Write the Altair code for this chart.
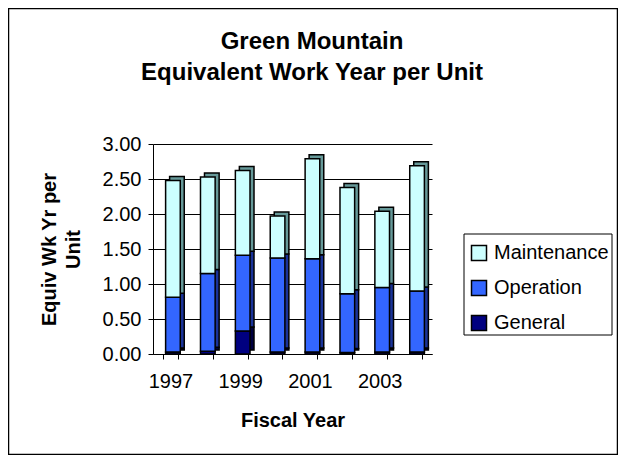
import altair as alt
import pandas as pd

years = ["1997", "1998", "1999", "2000", "2001", "2002", "2003", "2004"]
general = [0.03, 0.04, 0.33, 0.03, 0.03, 0.02, 0.03, 0.03]
operation = [0.78, 1.11, 1.08, 1.34, 1.33, 0.84, 0.92, 0.87]
maintenance = [1.67, 1.38, 1.21, 0.60, 1.43, 1.52, 1.09, 1.79]

series = ["Maintenance", "Operation", "General"]
front_colors = ["#CCFFFF", "#3366FF", "#000080"]
side_colors = {"Maintenance": "#669999", "Operation": "#1a3399", "General": "#000040"}
stack_rank = {"General": 0, "Operation": 1, "Maintenance": 2}
title_lines = ["Green Mountain", "Equivalent Work Year per Unit"]

rows = []
for i, y in enumerate(years):
    for name, vals in (("General", general), ("Operation", operation), ("Maintenance", maintenance)):
        rows.append({"Year": y, "Series": name, "Value": vals[i],
                     "rank": stack_rank[name], "dark": side_colors[name]})
df = pd.DataFrame(rows)

FONT = "Liberation Sans"

x_enc = alt.X("Year:N", sort=years,
              scale=alt.Scale(type="band", paddingInner=0.58, paddingOuter=0.29),
              axis=alt.Axis(title="Fiscal Year", labelAngle=0,
                            labelExpr="(toNumber(datum.value) - 1997) % 2 == 0 ? datum.value : ''",
                            tickBand="extent", labelFontSize=20, titleFontSize=20,
                            titleFontWeight="bold", labelColor="black", titleColor="black",
                            domainColor="black", tickColor="black", tickSize=5,
                            labelPadding=12, titlePadding=19, grid=False))
y_enc = alt.Y("Value:Q", stack="zero",
              scale=alt.Scale(domain=[0, 3], nice=False),
              axis=alt.Axis(title=["Equiv Wk Yr per", "Unit"], values=[0, 0.5, 1, 1.5, 2, 2.5, 3],
                            format=".2f", labelFontSize=20, titleFontSize=20,
                            titleFontWeight="bold", labelColor="black", titleColor="black",
                            titleLineHeight=24,
                            domainColor="black", tickColor="black", tickSize=5,
                            labelPadding=7, gridColor="black", gridWidth=1, titlePadding=19))

depth = alt.Chart(df).mark_bar(xOffset=6.5, yOffset=-4, stroke="black", strokeWidth=1.5).encode(
    x=x_enc, y=y_enc,
    fill=alt.Fill("dark:N", scale=None, legend=None),
    order=alt.Order("rank:Q"),
)

front = alt.Chart(df).mark_bar(xOffset=2.5, stroke="black", strokeWidth=1.5).encode(
    x=x_enc, y=y_enc,
    color=alt.Color("Series:N",
                    scale=alt.Scale(domain=series, range=front_colors),
                    legend=alt.Legend(title=None, orient="none", legendX=316, legendY=99,
                                      labelFontSize=20, labelColor="black", labelOffset=5,
                                      symbolType="square", symbolSize=225,
                                      symbolStrokeColor="black", symbolStrokeWidth=1.5,
                                      symbolOpacity=1, rowPadding=13, padding=0,
                                      labelFont=FONT)),
    order=alt.Order("rank:Q"),
)

one = pd.DataFrame({"k": [0]})
frame = alt.Chart(one).mark_rect(
    fill="white", fillOpacity=0, stroke="black", strokeWidth=1.5
).encode(
    x=alt.value(-144.5), x2=alt.value(464.5), y=alt.value(-135.5), y2=alt.value(310.5)
)
legend_box = alt.Chart(one).mark_rect(
    fill="white", stroke="black", strokeWidth=1
).encode(
    x=alt.value(311), x2=alt.value(459), y=alt.value(90), y2=alt.value(191)
)

title1 = alt.Chart(pd.DataFrame({"t": [title_lines[0]]})).mark_text(
    fontSize=24, fontWeight="bold", font=FONT, color="black", baseline="middle", align="center"
).encode(text="t:N", x=alt.value(159), y=alt.value(-102))
title2 = alt.Chart(pd.DataFrame({"t": [title_lines[1]]})).mark_text(
    fontSize=24, fontWeight="bold", font=FONT, color="black", baseline="middle", align="center"
).encode(text="t:N", x=alt.value(159), y=alt.value(-71))

chart = alt.layer(frame, legend_box, title1, title2, depth, front).properties(
    width=279, height=210,
    autosize=alt.AutoSizeParams(type="none"),
    padding={"left": 145, "top": 136, "right": 186, "bottom": 101},
).configure(font=FONT).configure_view(stroke=None).configure_axis(
    labelFont=FONT, titleFont=FONT
)

chart.save("out.html", embed_options={"renderer": "svg", "actions": False})
